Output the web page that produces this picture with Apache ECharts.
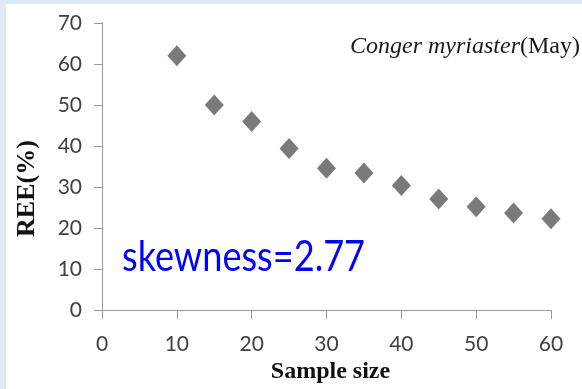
<!DOCTYPE html>
<html>
<head>
<meta charset="utf-8">
<script src="https://cdn.jsdelivr.net/npm/echarts@6/dist/echarts.min.js"></script>
<style>
  html, body { margin: 0; padding: 0; }
  body { width: 582px; height: 389px; background: #dfe9f5; position: relative; overflow: hidden; }
  #chart { position: absolute; left: 6px; top: 4px; width: 576px; height: 385px; background: #ffffff; }
</style>
</head>
<body>
<div id="chart"></div>
<script>
// Data
const sampleSizes = [10, 15, 20, 25, 30, 35, 40, 45, 50, 55, 60];
const reeValues   = [62.0, 50.0, 46.0, 39.4, 34.6, 33.4, 30.4, 27.1, 25.2, 23.7, 22.3];
const xTicks = [0, 10, 20, 30, 40, 50, 60];
const yTicks = [0, 10, 20, 30, 40, 50, 60, 70];
const speciesName = 'Conger myriaster';
const monthLabel = '(May)';
const skewnessLabel = 'skewness=2.77';
const xAxisName = 'Sample size';
const yAxisName = 'REE(%)';

const chart = echarts.init(document.getElementById('chart'), null, { renderer: 'canvas' });

const axisColor = '#9a9a9a';
const labelColor = '#404040';

chart.setOption({
  animation: false,
  backgroundColor: '#ffffff',
  title: {
    text: '{it|' + speciesName + '}{rm|' + monthLabel + '}',
    right: 2,
    top: 31,
    padding: 0,
    textStyle: {
      fontWeight: 'normal',
      rich: {
        it: { fontFamily: 'Liberation Serif', fontStyle: 'italic', fontWeight: 'normal', fontSize: 24, color: '#1a1a1a' },
        rm: { fontFamily: 'Liberation Serif', fontWeight: 'normal', fontSize: 24, color: '#1a1a1a' }
      }
    }
  },
  grid: { left: 94, right: 31, top: 19, bottom: 75.5, containLabel: false },
  xAxis: {
    type: 'value',
    min: xTicks[0],
    max: xTicks[xTicks.length - 1],
    interval: xTicks[1] - xTicks[0],
    name: xAxisName,
    nameLocation: 'middle',
    nameGap: 47,
    nameTextStyle: { fontFamily: 'Liberation Serif', fontWeight: 'bold', fontSize: 24, color: '#111111', padding: [0, 0, 0, 8] },
    axisLine: { show: true, lineStyle: { color: axisColor, width: 1 } },
    axisTick: { show: true, length: 9, lineStyle: { color: axisColor } },
    axisLabel: { margin: 24, fontFamily: 'Lato', fontSize: 21, color: labelColor },
    splitLine: { show: false }
  },
  yAxis: {
    type: 'value',
    min: yTicks[0],
    max: yTicks[yTicks.length - 1],
    interval: yTicks[1] - yTicks[0],
    name: yAxisName,
    nameLocation: 'middle',
    nameGap: 62,
    nameRotate: 90,
    nameTextStyle: { fontFamily: 'Liberation Serif', fontWeight: 'bold', fontSize: 26, color: '#111111', padding: [0, 44, 0, 0] },
    axisLine: { show: true, lineStyle: { color: axisColor, width: 1 } },
    axisTick: { show: true, length: 8, lineStyle: { color: axisColor } },
    axisLabel: { margin: 20, fontFamily: 'Lato', fontSize: 21, color: labelColor },
    splitLine: { show: false }
  },
  graphic: [
    {
      type: 'text',
      x: 116,
      y: 253,
      scaleX: 0.86,
      style: {
        text: skewnessLabel,
        font: '42px Lato',
        fill: '#0000ff',
        textAlign: 'left',
        textVerticalAlign: 'middle'
      }
    }
  ],
  series: [
    {
      type: 'scatter',
      data: sampleSizes.map((s, i) => [s, reeValues[i]]),
      symbol: 'diamond',
      symbolSize: [19, 21],
      itemStyle: { color: '#595959' }
    }
  ]
});
</script>
</body>
</html>
